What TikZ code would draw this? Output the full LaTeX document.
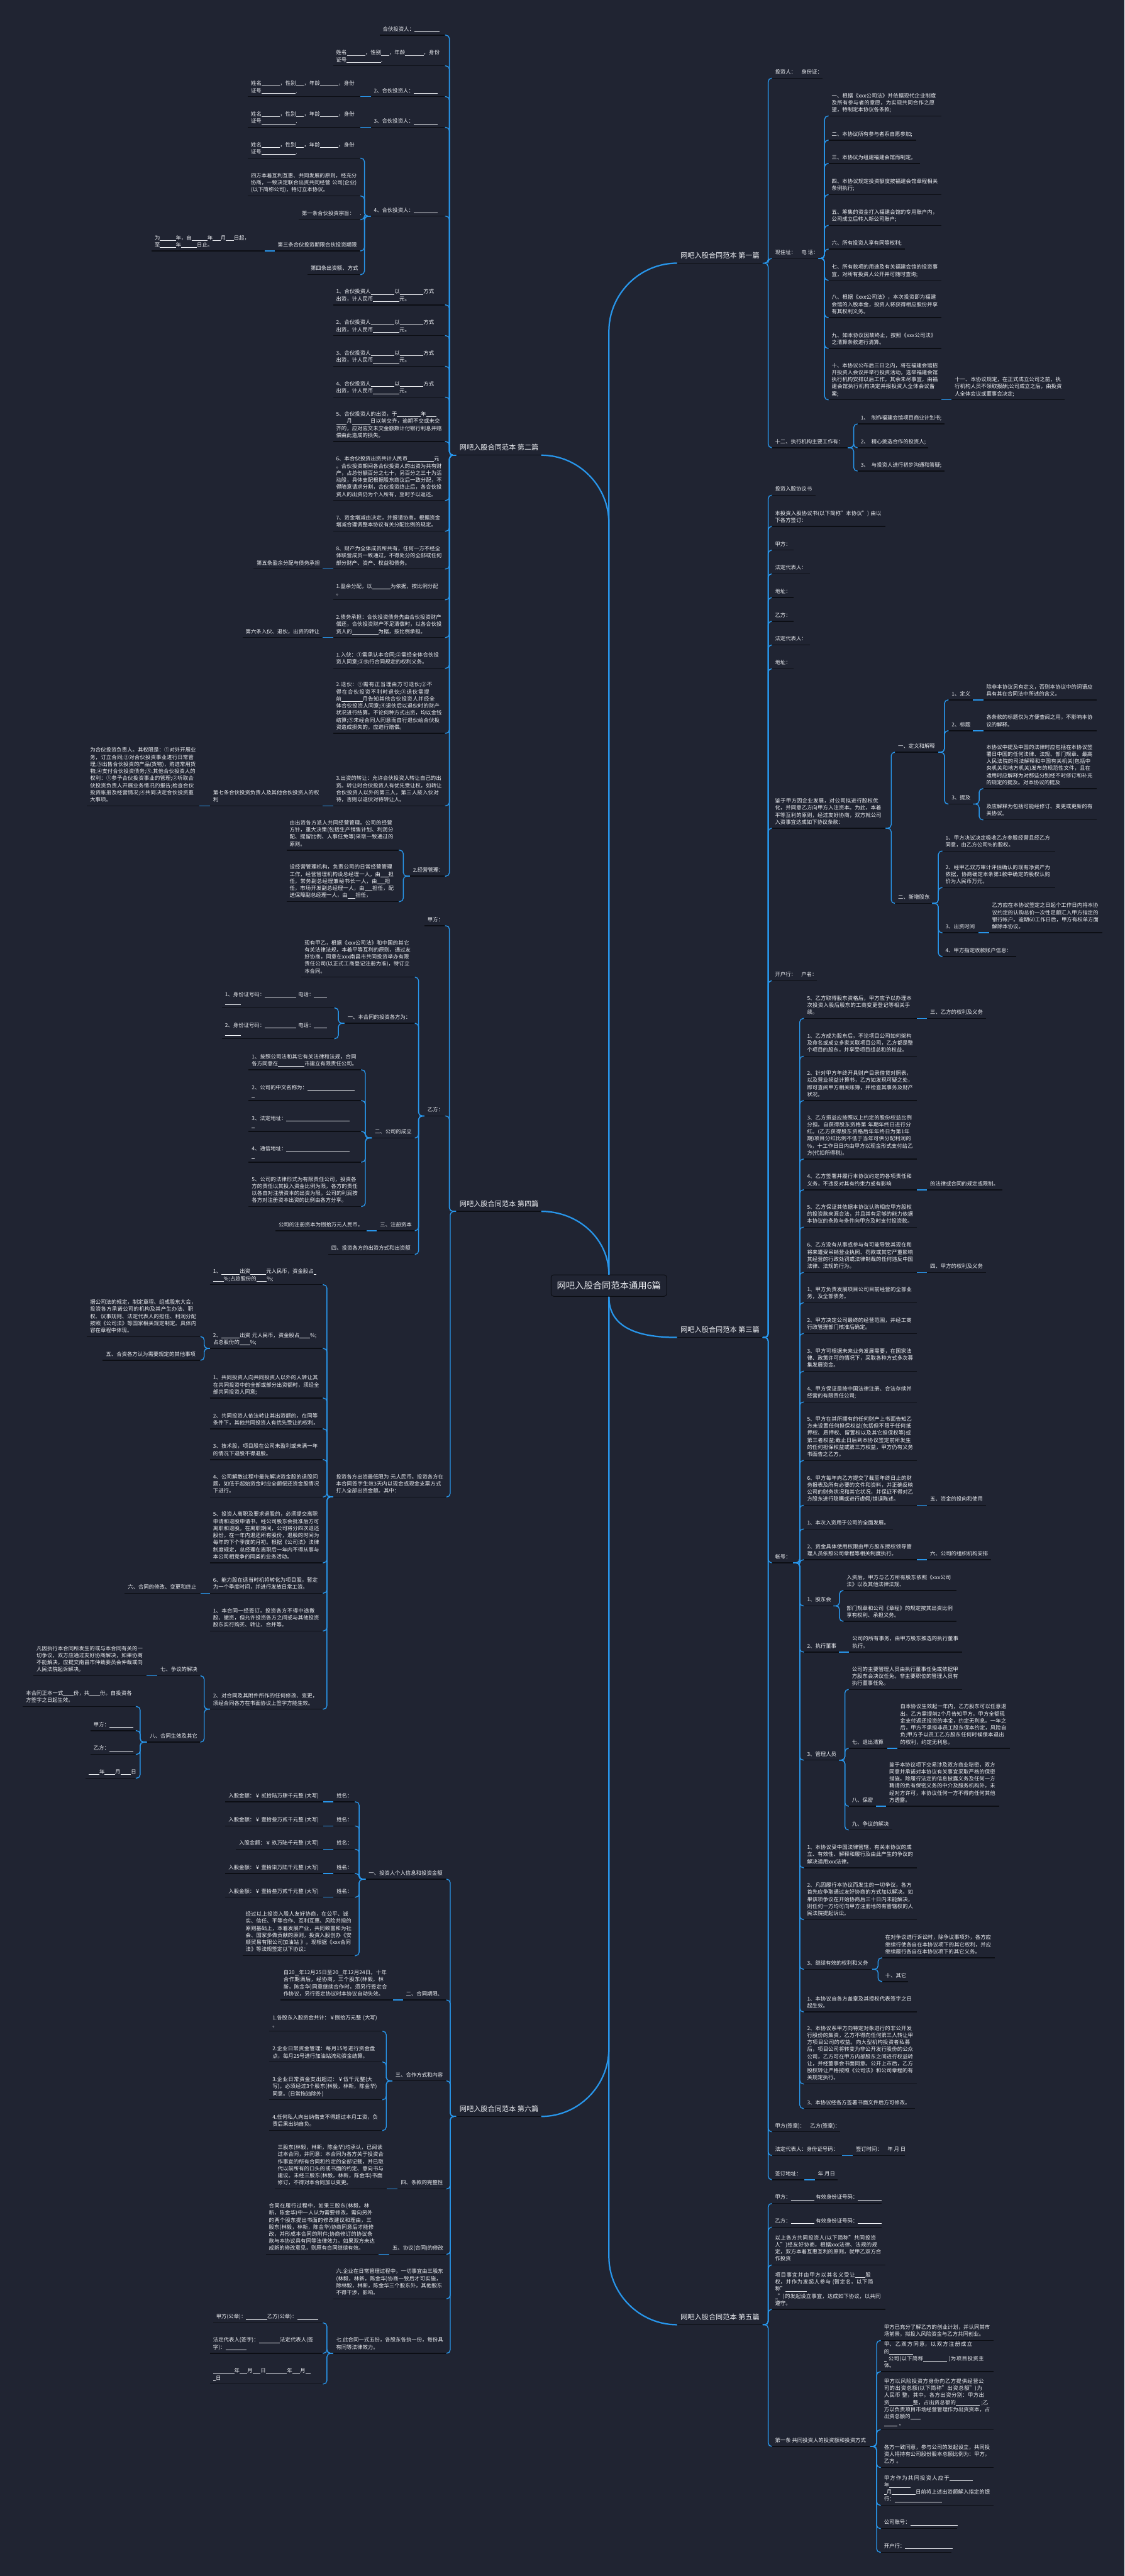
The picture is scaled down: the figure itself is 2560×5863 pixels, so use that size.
\documentclass[tikz,border=0pt]{standalone}
\usepackage{fontspec}
\setmainfont{Noto Sans CJK SC}
\usetikzlibrary{calc}
\XeTeXlinebreaklocale "zh"
\XeTeXlinebreakskip=0pt plus 1pt
\definecolor{bg}{RGB}{32,36,50}
\definecolor{lk}{RGB}{40,150,235}
\definecolor{ulc}{RGB}{12,14,20}
\definecolor{tx}{RGB}{240,242,246}
\newcommand\fs{\fontsize{12pt}{16.1pt}\selectfont}
\newcommand\fl{\fontsize{16pt}{20pt}\selectfont}
\newcommand\bl[1]{\rule[-1.5pt]{#1em}{0.6pt}}
\tikzset{
 nd/.style={inner xsep=7pt, inner ysep=4.5pt, align=left, font=\fs, text=tx},
 labn/.style={inner xsep=8pt, inner ysep=5pt, font=\fl, text=tx},
 ulx/.style={draw=ulc, line width=2pt},
 conn/.style={draw=lk, line width=2pt, rounded corners=8pt},
 mconn/.style={draw=lk, line width=3.2pt},
}
\newcommand\nd[5]{\node[nd,anchor=south west] (#1) at (#2,#4) {#5\strut};
 \coordinate (#1-l) at (#2,#4);\coordinate (#1-r) at (#3,#4);\draw[ulx] (#1-l) -- (#1-r);}
\newcommand\nm[5]{\pgfmathsetlengthmacro\tw{#3-#2-14}\node[nd,text width=\tw,anchor=south west] (#1) at (#2,#4) {#5\strut};
 \coordinate (#1-l) at (#2,#4);\coordinate (#1-r) at (#3,#4);\draw[ulx] (#1-l) -- (#1-r);}
\newcommand\lab[5]{\node[labn,anchor=south west] (#1) at (#2,#4) {#5\strut};
 \coordinate (#1-l) at (#2,#4);\coordinate (#1-r) at (#3,#4);\draw[ulx] (#1-l) -- (#1-r);}
\newcommand\lkR[2]{\draw[conn] let \p1=(#1-r),\p2=(#2-l),\n1={\x1+0.6*(\x2-\x1)} in (\p1) -- (\n1,\y1) -- (\n1,\y2) -- (\p2);}
\newcommand\lkL[2]{\draw[conn] let \p1=(#1-l),\p2=(#2-r),\n1={\x1+0.6*(\x2-\x1)} in (\p1) -- (\n1,\y1) -- (\n1,\y2) -- (\p2);}
\newcommand\sR[2]{\draw[conn] (#1-r) -- (#2-l);}
\newcommand\sL[2]{\draw[conn] (#1-l) -- (#2-r);}
\newcommand\xm{姓名\bl{3.5}，性别\bl{1.5}，年龄\bl{3.5}，身份证号\bl{6.5}.}
\begin{document}
\begin{tikzpicture}[x=1pt,y=-1pt]
\fill[bg] (0,0) rectangle (2560,5863);
\useasboundingbox (0,0) rectangle (2560,5863);
% ---------------- labels
\lab{L2}{1038}{1232}{1036}{网吧入股合同范本 第二篇}
\lab{L4}{1038}{1232}{2757}{网吧入股合同范本 第四篇}
\lab{L6}{1038}{1232}{4817}{网吧入股合同范本 第六篇}
\lab{R1}{1541}{1736}{599}{网吧入股合同范本 第一篇}
\lab{R3}{1541}{1736}{3044}{网吧入股合同范本 第三篇}
\lab{R5}{1541}{1736}{5291}{网吧入股合同范本 第五篇}
% ---------------- centre
\node[font=\fontsize{20.5pt}{24pt}\selectfont, text=tx, draw=ulc, line width=1.5pt, fill=bg, rounded corners=6pt, minimum width=263pt, minimum height=49pt, inner sep=4pt] (C) at (1386,2926) {网吧入股合同范本通用6篇};
\draw[mconn] (C.north) -- ($(C.north |- L2-r)+(0,155)$) .. controls +(0,-85) and +(85,0) .. (L2-r);
\draw[mconn] (C.north) .. controls +(0,-80) and +(85,0) .. (L4-r);
\draw[mconn] (C.south) -- ($(C.south |- L6-r)+(0,-155)$) .. controls +(0,85) and +(85,0) .. (L6-r);
\draw[mconn] (C.north) -- ($(C.north |- R1-l)+(0,155)$) .. controls +(0,-85) and +(-85,0) .. (R1-l);
\draw[mconn] (C.south) .. controls +(0,70) and +(-90,0) .. (R3-l);
\draw[mconn] (C.south) -- ($(C.south |- R5-l)+(0,-155)$) .. controls +(0,85) and +(-85,0) .. (R5-l);
% ================= 第二篇
\nd{a1}{864}{1013}{80}{合伙投资人：\bl{4.8}}
\nm{a2}{758}{1013}{150}{\xm}
\nd{a3}{844}{1013}{220}{2、合伙投资人：\bl{4.5}}
\nm{a3c}{564}{820}{220}{\xm}
\nd{a4}{844}{1013}{290}{3、合伙投资人：\bl{4.5}}
\nm{a4c}{564}{820}{290}{\xm}
\nd{a5}{844}{1013}{492}{4、合伙投资人：\bl{4.5}}
\nm{a5a}{564}{820}{360}{\xm}
\nm{a5b}{564}{820}{446}{四方本着互利互惠、共同发展的原则，经充分协商，一致决定联合出资共同经营 公司(企业)(以下简称公司)，特订立本协议。}
\nd{a5c}{680}{820}{500}{第一条合伙投资宗旨：\quad .}
\nd{a5d}{625}{820}{571}{第三条合伙投资期限合伙投资期限}
\nm{a5dc}{345}{603}{571}{为\bl{3}年，自\bl{3}年\bl{1.5}月\bl{1.5}日起，\\至\bl{3}年\bl{3}日止。}
\nd{a5e}{700}{820}{625}{第四条出资额、方式}
\nm{a6}{758}{1013}{694}{1、合伙投资人\bl{4.5}以\bl{4.5}方式\\出资，计人民币\bl{5}元。}
\nm{a7}{758}{1013}{764}{2、合伙投资人\bl{4.5}以\bl{4.5}方式\\出资，计人民币\bl{5}元。}
\nm{a8}{758}{1013}{834}{3、合伙投资人\bl{4.5}以\bl{4.5}方式\\出资，计人民币\bl{5}元。}
\nm{a9}{758}{1013}{904}{4、合伙投资人\bl{4.5}以\bl{4.5}方式\\出资，计人民币\bl{5}元。}
\nm{a10}{758}{1013}{1005}{5、合伙投资人的出资，于\bl{4.5}年\bl{2}\\\bl{2}月\bl{3.5}日以前交齐，逾期不交或未交齐的，应对应交未交金额数计付银行利息并赔偿由此造成的损失。}
\nm{a11}{758}{1013}{1139}{6、本合伙投资出资共计人民币\bl{5}元\\。合伙投资期间各合伙投资人的出资为共有财产，占总份额百分之七十，另百分之三十为活动股，具体支配根据股东商议后一致分配，不得随意请求分割，合伙投资终止后，各合伙投资人的出资仍为个人所有，至时予以返还。}
\nm{a12}{758}{1013}{1209}{7、资金增减由决定，并报请协商，根据资金增减合理调整本协议有关分配比例的规定。}
\nm{a13}{758}{1013}{1295}{8、财产为全体成员所共有，任何一方不经全体联营成员一致通过，不得处分的全部或任何部分财产、资产、权益和债务。}
\nd{a13c}{577}{735}{1295}{第五条盈余分配与债务承担}
\nm{a14}{758}{1013}{1365}{1.盈余分配，以\bl{3.5}为依据，按比例分配\\。}
\nm{a15}{758}{1013}{1451}{2.债务承担：合伙投资债务先由合伙投资财产偿还，合伙投资财产不足清偿时，以各合伙投资人的\bl{5}为据，按比例承担。}
\nd{a15c}{552}{735}{1451}{第六条入伙、退伙，出资的转让}
\nm{a16}{758}{1013}{1521}{1.入伙：①需承认本合同;②需经全体合伙投资人同意;③执行合同规定的权利义务。}
\nm{a17}{758}{1013}{1669}{2.退伙：①需有正当理由方可退伙;②不得在合伙投资不利时退伙;③退伙需提前\bl{4}月告知其他合伙投资人并经全体合伙投资人同意;④退伙后以退伙时的财产状况进行结算，不论何种方式出资，均以金钱结算;⑤未经合同人同意而自行退伙给合伙投资造成损失的，应进行赔偿。}
\nm{a18}{758}{1013}{1834}{3.出资的转让：允许合伙投资人转让自己的出资。转让时合伙投资人有优先受让权，如转让合伙投资人以外的第三人，第三人按入伙对待，否则以退伙对待转让人。}
\nm{a18c}{478}{735}{1834}{第七条合伙投资负责人及其他合伙投资人的权利}
\nm{a18cc}{198}{454}{1834}{为合伙投资负责人。其权限是：①对外开展业务，订立合同;②对合伙投资事业进行日常管理;③出售合伙投资的产品(货物)，购进常用货物;④支付合伙投资债务;⑤.其他合伙投资人的权利：①参予合伙投资事业的管理;②听取合伙投资负责人开展业务情况的报告;检查合伙投资帐册及经营情况;④共同决定合伙投资重大事项。}
\nd{a19}{933}{1013}{1994}{2.经营管理：}
\nm{a19a}{652}{908}{1935}{由出资各方派人共同经营管理。公司的经营方针，重大决策(包括生产销售计划、利润分配、提留比例、人事任免等)采取一致通过的原则。}
\nm{a19b}{652}{908}{2052}{设经营管理机构，负责公司的日常经营管理工作，经营管理机构设总经理一人，由\bl{1.5}担任，常务副总经理兼秘书长一人，由\bl{1.5}担任，市场开发副总经理一人，由\bl{1.5}担任，配送保障副总经理一人，由\bl{1.5}担任，}
\foreach \c in {a1,a2,a3,a4,a5,a6,a7,a8,a9,a10,a11,a12,a13,a14,a15,a16,a17,a18,a19} {\lkL{L2}{\c}}
\sL{a3}{a3c}\sL{a4}{a4c}
\foreach \c in {a5a,a5b,a5c,a5d,a5e} {\lkL{a5}{\c}}
\sL{a5d}{a5dc}\sL{a13}{a13c}\sL{a15}{a15c}\sL{a18}{a18c}\sL{a18c}{a18cc}
\lkL{a19}{a19a}\lkL{a19}{a19b}
% ================= 第四篇
\nd{b1}{966}{1013}{2107}{甲方：}
\nd{b2}{966}{1013}{2540}{乙方：}
\nm{b2a}{686}{944}{2224}{现有甲乙，根据《xxx公司法》和中国的其它有关法律法规，本着平等互利的原则，通过友好协商，同意在xxx南昌市共同投资举办有限责任公司(以正式工商登记注册为准)，特订立本合同。}
\nd{b2b}{784}{944}{2329}{一、本合同的投资各方为：}
\nm{b2b1}{505}{761}{2294}{1、身份证号码：\bl{6} 电话：\bl{2.5}\\\bl{3}}
\nm{b2b2}{505}{761}{2364}{2、身份证号码：\bl{6} 电话：\bl{2.5}\\\bl{3}}
\nd{b2c}{846}{944}{2590}{二、公司的成立}
\nm{b2c1}{566}{822}{2435}{1、按照公司法和其它有关法律和法规，合同各方同意在\bl{5}市建立有限责任公司。}
\nm{b2c2}{566}{822}{2505}{2、公司的中文名称为：\bl{9}\\\bl{0.5}}
\nm{b2c3}{566}{822}{2575}{3、法定地址：\bl{12}\\\bl{0.5}}
\nm{b2c4}{566}{822}{2645}{4、通信地址：\bl{12}\\\bl{0.5}}
\nm{b2c5}{566}{822}{2746}{5、公司的法律形式为有限责任公司，投资各方的责任以其投入资金比例为限，各方的责任以各自对注册资本的出资为限。公司的利润按各方对注册资本出资的比例由各方分享。}
\nd{b2d}{858}{944}{2801}{三、注册资本}
\nd{b2dc}{627}{835}{2801}{公司的注册资本为捌拾万元人民币。}
\nd{b2e}{747}{944}{2855}{四、投资各方的出资方式和出资额}
\nm{b3}{758}{1016}{3407}{投资各方出资最低限为 元人民币。投资各方在本合同签字生效3天内以现金或现金支票方式打入全部出资金额。其中：}
\nm{b3a}{478}{735}{2924}{1、\bl{3.5}出资\bl{3}元人民币，资金股占\bl{0.5}\\\bl{2}\%;占总股份的\bl{2}\%;}
\nm{b3b}{478}{735}{3069}{2、\bl{3.5}出资 元人民币，资金股占\bl{2}\%;\\占总股份的\bl{2}\%;}
\nm{b3b1}{198}{456}{3042}{据公司法的规定，制定章程、组成股东大会，投资各方承诺公司的机构及其产生办法、职权、议事规则、法定代表人的担任、利润分配按照《公司法》等国家相关规定制定。具体内容在章程中体现。}
\nd{b3b2}{234}{456}{3096}{五、合资各方认为需要规定的其他事项}
\nm{b3c}{478}{735}{3182}{1、共同投资人向共同投资人以外的人转让其在共同投资中的全部或部分出资额时，须经全部共同投资人同意;}
\nm{b3d}{478}{735}{3252}{2、共同投资人依法转让其出资额的，在同等条件下，其他共同投资人有优先受让的权利。}
\nm{b3e}{478}{735}{3322}{3、技术股，项目股在公司未盈利或未满一年的情况下退股不得退股。}
\nm{b3f}{478}{735}{3407}{4、公司解散过程中最先解决资金股的退股问题，如低于起始资金时应全额偿还资金股情况下进行。}
\nm{b3g}{478}{735}{3557}{5、投资人离职及要求退股的，必须提交离职申请和退股申请书，经公司股东会批准后方可离职和退股。在离职期间，公司将分四次退还股份，在一年内退还所有股份，退股的时间为每年的下个季度的月初。根据《公司法》法律制度规定，总经理在离职后一年内不得从事与本公司相竞争的同类的业务活动。}
\nm{b3h}{478}{735}{3626}{6、能力股在适当时机将转化为项目股，暂定为一个季度时间，并进行发放日常工资。}
\nd{b3hc}{284}{456}{3626}{六、合同的修改、变更和终止}
\nm{b3i}{478}{735}{3712}{1、本合同一经签订，投资各方不得中途撤股、撤资，但允许投资各方之间或与其他投资股东实行购买、转让、合并等。}
\nm{b3j}{478}{735}{3890}{2、对合同及其附件所作的任何修改、变更，须经合同各方在书面协议上签字方能生效。}
\nd{b3j1}{358}{456}{3814}{七、争议的解决}
\nm{b3j1c}{76}{334}{3814}{凡因执行本合同所发生的或与本合同有关的一切争议，双方应通过友好协商解决，如果协商不能解决，应提交南昌市仲裁委员会仲裁或向人民法院起诉解决。}
\nd{b3j2}{334}{456}{3965}{八、合同生效及其它}
\nm{b3j2a}{52}{309}{3884}{本合同正本一式\bl{2}份，共\bl{2}份。自投资各方签字之日起生效。}
\nd{b3j2b}{206}{309}{3939}{甲方：\bl{4.5}}
\nd{b3j2c}{206}{309}{3993}{乙方：\bl{4.5}}
\nd{b3j2d}{195}{309}{4047}{\bl{2}年\bl{2}月\bl{2}日}
\foreach \c in {b1,b2,b3} {\lkL{L4}{\c}}
\foreach \c in {b2a,b2b,b2c,b2d,b2e} {\lkL{b2}{\c}}
\lkL{b2b}{b2b1}\lkL{b2b}{b2b2}
\foreach \c in {b2c1,b2c2,b2c3,b2c4,b2c5} {\lkL{b2c}{\c}}
\sL{b2d}{b2dc}
\foreach \c in {b3a,b3b,b3c,b3d,b3e,b3f,b3g,b3h,b3i,b3j} {\lkL{b3}{\c}}
\lkL{b3b}{b3b1}\lkL{b3b}{b3b2}\sL{b3h}{b3hc}
\lkL{b3j}{b3j1}\lkL{b3j}{b3j2}\sL{b3j1}{b3j1c}
\foreach \c in {b3j2a,b3j2b,b3j2c,b3j2d} {\lkL{b3j2}{\c}}
% ================= 第六篇
\nd{c1}{832}{1016}{4277}{一、投资人个人信息和投资金额}
\nd{c1a}{759}{808}{4101}{姓名：}
\nd{c1b}{759}{808}{4156}{姓名：}
\nd{c1c}{759}{808}{4209}{姓名：}
\nd{c1d}{759}{808}{4264}{姓名：}
\nd{c1e}{759}{808}{4318}{姓名：}
\nd{c1a1}{513}{736}{4101}{入股金额：￥ 贰拾陆万肆千元整 (大写)}
\nd{c1b1}{513}{736}{4156}{入股金额：￥ 壹拾叁万贰千元整 (大写)}
\nd{c1c1}{537}{736}{4209}{入股金额：￥ 玖万陆千元整 (大写)}
\nd{c1d1}{513}{736}{4264}{入股金额：￥ 壹拾柒万陆千元整 (大写)}
\nd{c1e1}{513}{736}{4318}{入股金额：￥ 壹拾叁万贰千元整 (大写)}
\nm{c1f}{552}{808}{4451}{经过以上投资入股人友好协商，在公平、诚实、信任、平等合作、互利互惠、风险共担的原则基础上，本着发展产业，共同致富和为社会、国家多做贡献的原则，投资入股创办《安顺贸易有限公司加油站 》。现根据《xxx合同法》等法规签定以下协议：}
\nd{c2}{917}{1016}{4552}{二、合同期限、}
\nm{c2c}{638}{894}{4552}{自20\bl{0.8}年12月25日至20\bl{0.8}年12月24日。十年合作期满后，经协商，三个股东(林毅，林新，陈金华)同意继续合作时，须另行签定合作协议，另行签定协议时本协议自动失效。}
\nd{c3}{893}{1016}{4736}{三、合作方式和内容}
\nm{c3a}{613}{870}{4623}{1.各股东入股资金共计：￥捌拾万元整 (大写)\\。}
\nm{c3b}{613}{870}{4693}{2.企业日常资金管理：每月15号进行资金盘点，每月25号进行加油站流动资金结算。}
\nm{c3c}{613}{870}{4779}{3.企业日常资金支出超过：￥伍千元整(大写)。必须经过3个股东(林毅，林新，陈金华)同意。(日常拖油除外)}
\nm{c3d}{613}{870}{4849}{4.任何私人向出纳借支不得超过本月工资，负责后果出纳自负。}
\nd{c4}{905}{1016}{4982}{四、条款的完整性}
\nm{c4c}{625}{881}{4982}{三股东(林毅，林新，陈金华)均承认，已阅读过本合同，并同意：本合同为各方关于投资合作事宜的所有合同和约定的全部记载，并已取代以前所有的口头的或书面的约定、意向书与建议。未经三股东(林毅，林新，陈金华)书面修订，不得对本合同加以变更。}
\nd{c5}{886}{1016}{5131}{五、协议(合同)的修改}
\nm{c5c}{605}{861}{5131}{合同在履行过程中，如果三股东(林毅，林新，陈金华)中一人认为需要修改，需向另外的两个股东提出书面的修改建议和理由，三股东(林毅，林新，陈金华)协商同意后才能修改，并形成本合同的附件;协商修订的协议条款与本协议具有同等法律效力。如果双方未达成新的修改意见，则原有合同继续有效。}
\nm{c6}{758}{1016}{5232}{六.企业在日常管理过程中，一切事宜由三股东(林毅，林新，陈金华)协商一致后才可实施，除林毅，林新，陈金华三个股东外，其他股东不得干涉，影响。}
\nm{c7}{758}{1016}{5356}{七.此合同一式五份，各股东各执一份，每份具有同等法律效力。}
\nd{c7a}{485}{735}{5287}{甲方(公章)：\bl{4}乙方(公章)：\bl{4}}
\nm{c7b}{478}{735}{5356}{法定代表人(签字)：\bl{4}法定代表人(签\\字)：\bl{4}}
\nm{c7c}{478}{735}{5426}{\bl{4}年\bl{1.5}月\bl{1.5}日\bl{4}年\bl{1.5}月\bl{1}\\\bl{0.5}日}
\foreach \c in {c1,c2,c3,c4,c5,c6,c7} {\lkL{L6}{\c}}
\foreach \c in {c1a,c1b,c1c,c1d,c1e,c1f} {\lkL{c1}{\c}}
\sL{c1a}{c1a1}\sL{c1b}{c1b1}\sL{c1c}{c1c1}\sL{c1d}{c1d1}\sL{c1e}{c1e1}
\sL{c2}{c2c}
\foreach \c in {c3a,c3b,c3c,c3d} {\lkL{c3}{\c}}
\sL{c4}{c4c}\sL{c5}{c5c}
\foreach \c in {c7a,c7b,c7c} {\lkL{c7}{\c}}
% ================= 第一篇
\nd{d1}{1757}{1872}{178}{投资人：\quad 身份证：}
\nd{d2}{1757}{1863}{588}{现住址：\quad 电 话：}
\nm{d2a}{1886}{2143}{264}{一、根据《xxx公司法》并依据现代企业制度及所有参与者的意愿，为实现共同合作之愿望，特制定本协议各条款;}
\nd{d2b}{1886}{2085}{319}{二、本协议所有参与者系自愿参加;}
\nd{d2c}{1886}{2094}{372}{三、本协议为组建福建会馆而制定。}
\nm{d2d}{1886}{2143}{443}{四、本协议规定投资额度按福建会馆章程相关条例执行;}
\nm{d2e}{1886}{2143}{513}{五、筹集的资金打入福建会馆的专用账户内，公司成立后转入新公司账户;}
\nd{d2f}{1886}{2060}{567}{六、所有投资人享有同等权利;}
\nm{d2g}{1886}{2143}{638}{七、所有款项的用途及有关福建会馆的投资事宜，对所有投资人公开并可随时查询;}
\nm{d2h}{1886}{2143}{723}{八、根据《xxx公司法》，本次投资即为福建会馆的入股本金，投资人将获得相应股份并享有其权利义务。}
\nm{d2i}{1886}{2143}{793}{九、如本协议因故终止，按照《xxx公司法》之清算条款进行清算。}
\nm{d2j}{1886}{2143}{910}{十、本协议公布后三日之内，将在福建会馆招开投资人会议并举行投资活动，选举福建会馆执行机构安排以后工作。其余未尽事宜，由福建会馆执行机构决定并报投资人全体会议备案;}
\nm{d2k}{2166}{2424}{910}{十一、本协议规定，在正式成立公司之前，执行机构人员不领取报酬;公司成立之后，由投资人全体会议或董事会决定;}
\nd{d3}{1757}{1930}{1019}{十二、执行机构主要工作有：}
\nd{d3a}{1952}{2150}{965}{1、\enspace 制作福建会馆项目商业计划书;}
\nd{d3b}{1952}{2113}{1019}{2、\enspace 精心挑选合作的投资人;}
\nd{d3c}{1952}{2150}{1072}{3、\enspace 与投资人进行初步沟通和答疑;}
\foreach \c in {d1,d2,d3} {\lkR{R1}{\c}}
\foreach \c in {d2a,d2b,d2c,d2d,d2e,d2f,d2g,d2h,d2i,d2j} {\lkR{d2}{\c}}
\sR{d2j}{d2k}
\foreach \c in {d3a,d3b,d3c} {\lkR{d3}{\c}}
% ================= 第三篇
\nd{e1}{1757}{1856}{1127}{投资入股协议书}
\nm{e2}{1757}{2016}{1198}{本投资入股协议书(以下简称"本协议") 由以下各方签订：}
\nd{e3}{1757}{1807}{1252}{甲方：}
\nd{e4}{1757}{1844}{1306}{法定代表人：}
\nd{e5}{1757}{1807}{1360}{地址：}
\nd{e6}{1757}{1807}{1414}{乙方：}
\nd{e7}{1757}{1844}{1468}{法定代表人：}
\nd{e8}{1757}{1807}{1522}{地址：}
\nm{e9}{1757}{2016}{1885}{鉴于甲方因企业发展，对公司拟进行股权优化，并同意乙方向甲方入注资本。为此，本着平等互利的原则，经过友好协商，双方就公司入资事宜达成如下协议条款：}
\nd{e9a}{2037}{2136}{1712}{一、定义和解释}
\nd{e9a1}{2159}{2215}{1593}{1、定义}
\nm{e9a1c}{2238}{2496}{1593}{除非本协议另有定义，否则本协议中的词语应具有其在合同法中所述的含义。}
\nd{e9a2}{2159}{2215}{1663}{2、标题}
\nm{e9a2c}{2238}{2496}{1663}{各条款的标题仅为方便查阅之用，不影响本协议的解释。}
\nd{e9a3}{2159}{2215}{1830}{3、提及}
\nm{e9a3a}{2238}{2496}{1795}{本协议中提及中国的法律时应包括在本协议签署日中国的任何法律、法规、部门规章、最高人民法院的司法解释和中国有关机关(包括中央机关和地方机关)发布的规范性文件，且在适用时应解释为对那些分别经不时修订和补充的规定的提及。对本协议的提及}
\nm{e9a3b}{2238}{2496}{1866}{及应解释为包括可能经修订、变更或更新的有关协议。}
\nd{e9b}{2037}{2122}{2056}{二、新增股东}
\nm{e9b1}{2145}{2402}{1937}{1、甲方决议决定吸收乙方参股经营且经乙方同意，由乙方公司\%的股权。}
\nm{e9b2}{2145}{2402}{2020}{2、经甲乙双方审计评估确认的现有净资产为依据，协商确定本条第1款中确定的股权认购价为人民币万元。}
\nd{e9b3}{2145}{2227}{2123}{3、出资时间}
\nm{e9b3c}{2251}{2509}{2123}{乙方应在本协议签定之日起个工作日内将本协议约定的认购总价一次性足额汇入甲方指定的银行帐户。逾期60工作日后，甲方有权单方面解除本协议。}
\nd{e9b4}{2145}{2313}{2177}{4、甲方指定收款账户信息：}
\nd{e10}{1757}{1860}{2232}{开户行：\quad 户名：}
\nd{e11}{1757}{1806}{3557}{帐号：}
\nm{e11a}{1830}{2087}{2318}{5、乙方取得股东资格后，甲方应予以办理本次投资入股后股东的工商变更登记等相关手续。}
\nd{e11ac}{2110}{2244}{2318}{三、乙方的权利及义务}
\nm{e11b}{1830}{2087}{2404}{1、乙方成为股东后，不论项目公司如何架构及命名或成立多家关联项目公司，乙方都是整个项目的股东，并享受项目组总和的权益。}
\nm{e11c}{1830}{2087}{2505}{2、针对甲方年终开具财产目录借贷对照表，以及营业损益计算书，乙方如发现可疑之处，即可查阅甲方相关账簿，并检查其事务及财产状况。}
\nm{e11d}{1830}{2087}{2638}{3、乙方损益应按照以上约定的股份权益比例分担。自获得股东资格第 年期年终日进行分红。(乙方获得股东资格后年年终日为第1年期)项目分红比例不低于当年可供分配利润的 \%，十工作日日内由甲方以现金形式支付给乙方(代扣所得税)。}
\nm{e11e}{1830}{2087}{2708}{4、乙方签署并履行本协议约定的各项责任和义务，不违反对其有约束力或有影响}
\nd{e11ec}{2110}{2281}{2708}{的法律或合同的规定或限制。}
\nm{e11f}{1830}{2087}{2793}{5、乙方保证其依据本协议认购相应甲方股权的投资款来源合法，并且其有足够的能力依据本协议的条款与条件向甲方及时支付投资款。}
\nm{e11g}{1830}{2087}{2896}{6、乙方没有从事或参与有可能导致其现在和将来遭受吊销营业执照、罚款或其它严重影响其经营的行政处罚或法律制裁的任何违反中国法律、法规的行为。}
\nd{e11gc}{2110}{2244}{2896}{四、甲方的权利及义务}
\nm{e11h}{1830}{2087}{2965}{1、甲方负责发展项目公司目前经营的全部业务，及全部债务。}
\nm{e11i}{1830}{2087}{3035}{2、甲方决定公司最终的经营范围，并经工商行政管理部门核准后确定。}
\nm{e11j}{1830}{2087}{3121}{3、甲方可根据未来业务发展需要，在国家法律、政策许可的情况下，采取各种方式多次募集发展资金。}
\nm{e11k}{1830}{2087}{3191}{4、甲方保证是按中国法律注册、合法存续并经营的有限责任公司;}
\nm{e11l}{1830}{2087}{3324}{5、甲方在其所拥有的任何财产上书面告知乙方未设置任何担保权益(包括但不限于任何抵押权、质押权、留置权以及其它担保权等)或第三者权益;截止日后到本协议签定前所发生的任何担保权益或第三方权益，甲方仍有义务书面告之乙方。}
\nm{e11m}{1830}{2087}{3426}{6、甲方每年向乙方提交了截至年终日止的财务报表及所有必要的文件和资料，并正确反映公司的财务状况和其它状况，并保证不得对乙方股东进行隐瞒或进行虚假/错误陈述。}
\nd{e11mc}{2110}{2244}{3426}{五、资金的投向和使用}
\nd{e11n}{1830}{2033}{3480}{1、本次入资用于公司的全面发展。}
\nm{e11o}{1830}{2087}{3550}{2、资金具体使用权限由甲方股东授权领导管理人员依照公司章程等相关制度执行。}
\nd{e11oc}{2110}{2256}{3550}{六、公司的组织机构安排}
\nd{e11p}{1830}{1897}{3655}{1、股东会}
\nm{e11p1}{1920}{2177}{3620}{入资后，甲方与乙方所有股东依照《xxx公司法》以及其他法律法规、}
\nm{e11p2}{1920}{2177}{3690}{部门规章和公司《章程》的规定按其出资比例享有权利、承担义务。}
\nd{e11q}{1830}{1910}{3760}{2、执行董事}
\nm{e11qc}{1933}{2190}{3760}{公司的所有事务，由甲方股东推选的执行董事执行。}
\nd{e11r}{1830}{1910}{4006}{3、管理人员}
\nm{e11r1}{1932}{2190}{3845}{公司的主要管理人员由执行董事任免或依据甲方股东会决议任免。非主要职位的管理人员有执行董事任免。}
\nd{e11r2}{1932}{2019}{3979}{七、退出清算}
\nm{e11r2c}{2042}{2299}{3979}{自本协议生效起一年内，乙方股东可以任意退出。乙方需提前2个月告知甲方，甲方全额现金支付返还投资的本金，约定无利息。一年之后，甲方不承担非员工股东保本约定，风险自负;甲方予以员工乙方股东任何时候保本退出的权利，约定无利息。}
\nd{e11r3}{1932}{1994}{4111}{八、保密}
\nm{e11r3c}{2017}{2274}{4111}{鉴于本协议项下交易涉及双方商业秘密，双方同意并承诺对本协议有关事宜采取严格的保密措施。除履行法定的信息披露义务及任何一方聘请的负有保密义务的中介及服务机构外，未经对方许可，本协议任何一方不得向任何其他方透露。}
\nd{e11r4}{1932}{2031}{4165}{九、争议的解决}
\nm{e11s}{1830}{2087}{4251}{1、本协议受中国法律管辖，有关本协议的成立、有效性、解释和履行及由此产生的争议的解决适用xxx法律。}
\nm{e11t}{1830}{2087}{4369}{2、凡因履行本协议而发生的一切争议，各方首先应争取通过友好协商的方式加以解决。如果该项争议在开始协商后三十日内未能解决，则任何一方均可向甲方注册地的有管辖权的人民法院提起诉讼。}
\nd{e11u}{1830}{1985}{4482}{3、继续有效的权利和义务}
\nm{e11u1}{2008}{2264}{4456}{在对争议进行诉讼时，除争议事项外，各方应继续行使各自在本协议项下的其它权利，并应继续履行各自在本协议项下的其它义务。}
\nd{e11u2}{2008}{2067}{4510}{十、其它}
\nm{e11v}{1830}{2087}{4579}{1、本协议自各方盖章及其授权代表签字之日起生效。}
\nm{e11w}{1830}{2087}{4743}{2、本协议系甲方向特定对象进行的非公开发行股份的集资，乙方不得向任何第三人转让甲方项目公司的权益。向大型机构投资者私募后，项目公司将转变为非公开发行股份的公众公司，乙方可在甲方内部股东之间进行权益转让，并经董事会书面同意。公开上市后，乙方股权转让严格按照《公司法》和公司章程的有关规定执行。}
\nd{e11x}{1830}{2082}{4799}{3、本协议经各方签署书面文件后方可修改。}
\nd{e12}{1757}{1912}{4852}{甲方(签章)：\quad 乙方(签章)：}
\nd{e13}{1757}{1917}{4906}{法定代表人：身份证号码：}
\nd{e13c}{1941}{2060}{4906}{签订时间：\quad 年 月 日}
\nd{e14}{1757}{1831}{4961}{签订地址：}
\nd{e14c}{1855}{1907}{4961}{年 月日}
\foreach \c in {e1,e2,e3,e4,e5,e6,e7,e8,e9,e10,e11,e12,e13,e14} {\lkR{R3}{\c}}
\lkR{e9}{e9a}\lkR{e9}{e9b}
\foreach \c in {e9a1,e9a2,e9a3} {\lkR{e9a}{\c}}
\sR{e9a1}{e9a1c}\sR{e9a2}{e9a2c}\lkR{e9a3}{e9a3a}\lkR{e9a3}{e9a3b}
\foreach \c in {e9b1,e9b2,e9b3,e9b4} {\lkR{e9b}{\c}}
\sR{e9b3}{e9b3c}
\foreach \c in {e11a,e11b,e11c,e11d,e11e,e11f,e11g,e11h,e11i,e11j,e11k,e11l,e11m,e11n,e11o,e11p,e11q,e11r,e11s,e11t,e11u,e11v,e11w,e11x} {\lkR{e11}{\c}}
\sR{e11a}{e11ac}\sR{e11e}{e11ec}\sR{e11g}{e11gc}\sR{e11m}{e11mc}\sR{e11o}{e11oc}
\lkR{e11p}{e11p1}\lkR{e11p}{e11p2}\sR{e11q}{e11qc}
\foreach \c in {e11r1,e11r2,e11r3,e11r4} {\lkR{e11r}{\c}}
\sR{e11r2}{e11r2c}\sR{e11r3}{e11r3c}
\lkR{e11u}{e11u1}\lkR{e11u}{e11u2}
\sR{e13}{e13c}\sR{e14}{e14c}
% ================= 第五篇
\nd{f1}{1757}{2007}{5015}{甲方：\bl{4.5} 有效身份证号码：\bl{4.5}}
\nd{f2}{1757}{2007}{5069}{乙方：\bl{4.5} 有效身份证号码：\bl{4.5}}
\nm{f3}{1757}{2015}{5155}{以上各方共同投资人(以下简称"共同投资人")经友好协商，根据xxx法律、法规的规定，双方本着互惠互利的原则，就甲乙双方合作投资}
\nm{f4}{1757}{2015}{5256}{项目事宜并由甲方以其名义受让\bl{2}股权，并作为发起人参与 (暂定名，以下简称"\bl{4}\\\bl{0.5}")的发起设立事宜，达成如下协议，以共同遵守。}
\nd{f5}{1757}{1981}{5568}{第一条 共同投资人的投资额和投资方式}
\nm{f5a}{2005}{2262}{5327}{甲方已充分了解乙方的创业计划，并认同其市场前景，拟投入风险资金与乙方共同创业。}
\nm{f5b}{2005}{2262}{5398}{甲、乙双方同意，以双方注册成立的\bl{4.5}\\\bl{0.5} 公司(以下简称\bl{4.5} )为项目投资主体。}
\nm{f5c}{2005}{2262}{5530}{甲方以风险投资方身份向乙方提供经营公司的出资总额(以下简称"出资总额")为人民币 整，其中，各方出资分别：甲方出资\bl{4.5}整，占出资总额的\bl{4.5} ;乙方以负责项目市场经营管理作为出资资本，占出资总额的\bl{2}\\\bl{2.5} 。}
\nm{f5d}{2005}{2262}{5616}{各方一致同意，参与公司的发起设立，共同投资人将持有公司股份股本总额比例为：甲方，乙方 。}
\nm{f5e}{2005}{2262}{5702}{甲方作为共同投资人应于\bl{4.5} 年\bl{4}\\\bl{0.5}月\bl{4.5}日前将上述出资额解入指定的银行：\bl{9}}
\nd{f5f}{2005}{2178}{5755}{公司账号：\bl{9}}
\nd{f5g}{2005}{2165}{5809}{开户行：\bl{9}}
\foreach \c in {f1,f2,f3,f4,f5} {\lkR{R5}{\c}}
\foreach \c in {f5a,f5b,f5c,f5d,f5e,f5f,f5g} {\lkR{f5}{\c}}
\end{tikzpicture}
\end{document}
